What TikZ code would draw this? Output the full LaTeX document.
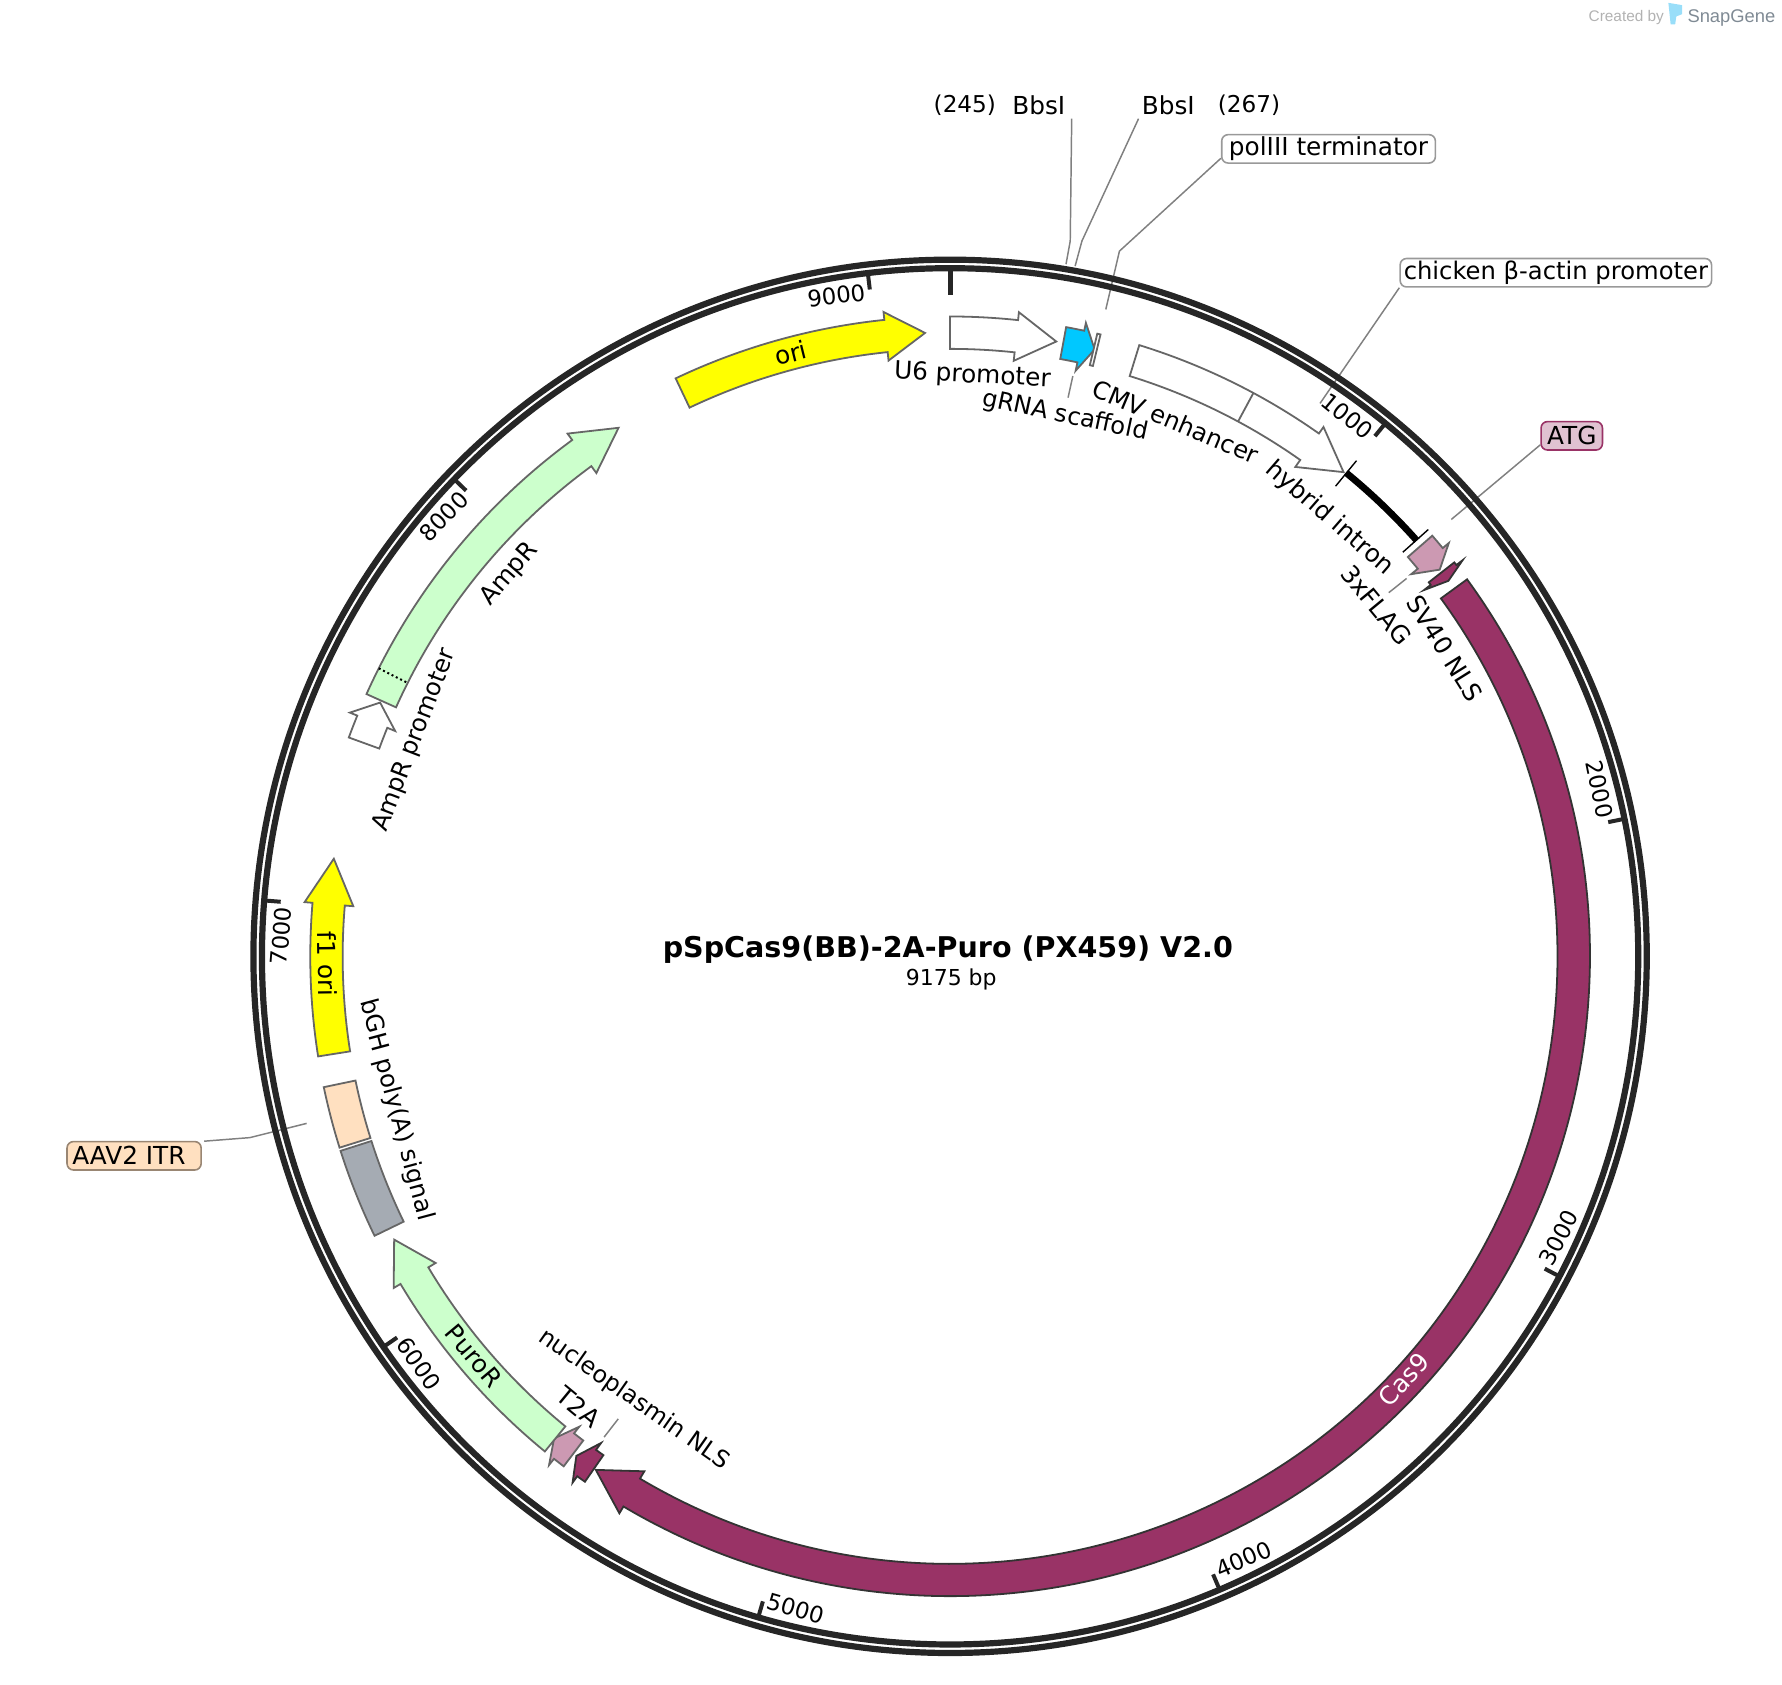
\documentclass[tikz,border=0pt]{standalone}
\usepackage{fontspec}
\setmainfont{DejaVu Sans}
\newfontfamily\logofont{Liberation Sans}

\definecolor{plum}{HTML}{993366}
\definecolor{mauve}{HTML}{CC99B2}
\definecolor{peach}{HTML}{FFE0C0}
\definecolor{mint}{HTML}{CCFFCC}
\definecolor{slategrey}{HTML}{A5ABB3}
\definecolor{skyblue}{HTML}{00C8FF}
\definecolor{ringgrey}{HTML}{262626}
\definecolor{oriyellow}{RGB}{255,255,0}
\definecolor{brandgrey}{HTML}{7F8A94}

\def\ro{5.63}
\def\ri{5.345}
\def\rm{5.49}
\def\wo{5.70}
\def\wi{5.27}

\tikzset{
	ring/.style={draw=ringgrey,line width=1.55pt},
	tickmark/.style={draw=ringgrey,line width=1pt},
	feat/.style={draw=black!60,line width=.45pt,line join=miter},
	featdark/.style={draw=black!80,line width=.45pt,line join=miter},
	leader/.style={draw=black!50,line width=.37pt},
	flab/.style={font=\fontsize{6.2}{7}\selectfont,inner sep=0pt},
	poslab/.style={font=\fontsize{5.8}{7}\selectfont,inner sep=0pt},
	ticklab/.style={font=\fontsize{5.7}{7}\selectfont,inner sep=0pt},
	lbox/.style={flab,rounded corners=1.6pt,line width=.4pt,minimum height=.25cm},
}

% tail, wing and tip angle, clockwise from the top
\newcommand{\featarrow}[4]{
	\draw[#1] ({90-#2}:\ro) arc[start angle={90-#2},end angle={90-#3},radius=\ro] -- ({90-#3}:\wo)
		-- ({90-#4}:\rm) -- ({90-#3}:\wi) -- ({90-#3}:\ri)
		arc[start angle={90-#3},end angle={90-#2},radius=\ri] -- cycle;
}
\newcommand{\featblock}[3]{
	\draw[#1] ({90-#2}:\ro) arc[start angle={90-#2},end angle={90-#3},radius=\ro] -- ({90-#3}:\ri)
		arc[start angle={90-#3},end angle={90-#2},radius=\ri] -- cycle;
}

\begin{document}
\begin{tikzpicture}
	\useasboundingbox (-8.36,8.415) rectangle (7.32,-6.405);

	% boxes and upper labels
	\node[poslab] (bbsApos) at (0.13,7.49) {(245)};
	\node[flab] (bbsA) at (0.78,7.49) {BbsI};
	\node[flab] (bbsB) at (1.92,7.49) {BbsI};
	\node[poslab] (bbsBpos) at (2.63,7.49) {(267)};
	\node[lbox,draw=black!40,fill=white,minimum width=1.88cm] (polbox) at (3.33,7.105) {polIII terminator};
	\node[lbox,draw=black!40,fill=white,minimum width=2.74cm,font=\fontsize{6.07}{7}\selectfont] (actbox) at (5.33,6.015) {chicken β-actin promoter};
	\node[lbox,draw=plum,fill=plum!30,minimum width=.54cm] (atgbox) at (5.47,4.58) {ATG};
	\node[lbox,draw=peach!60!black,fill=peach,minimum width=1.18cm] (aavbox) at (-7.18,-1.755) {AAV2 ITR\kern.09cm\relax};

	% leader lines, under the rings
	\coordinate (bbsAtop) at (1.07,7.37);
	\coordinate (bbsAbend) at (1.057,6.294);
	\coordinate (bbsAend) at (1.02,6.09);
	\coordinate (bbsBtop) at (1.658,7.37);
	\coordinate (bbsBbend) at (1.16,6.294);
	\coordinate (bbsBend) at (1.10,6.073);
	\coordinate (polbend) at (1.49,6.205);
	\coordinate (polend) at (1.37,5.692);
	\coordinate (actend) at (3.255,4.865);
	\coordinate (atgend) at (4.41,3.844);
	\coordinate (aavbend) at (-6.16,-1.595);
	\coordinate (aavend) at (-5.662,-1.47);
	\coordinate (grnaA) at (1.08,5.106);
	\coordinate (grnaB) at (1.038,4.916);
	\coordinate (flagA) at (4.017,3.325);
	\coordinate (flagB) at (3.86,3.20);
	\coordinate (npA) at (-2.92,-4.07);
	\coordinate (npB) at (-3.044,-4.23);
	\draw[leader] (bbsAtop) -- (bbsAbend) -- (bbsAend);
	\draw[leader] (bbsBtop) -- (bbsBbend) -- (bbsBend);
	\draw[leader] (polbox.185) -- (polbend) -- (polend);
	\draw[leader] (actbox.south west) -- (actend);
	\draw[leader] (atgbox.196) -- (atgend);
	\draw[leader,shorten <=.02cm] (aavbox.12) -- (aavbend) -- (aavend);
	\draw[leader] (grnaA) -- (grnaB);
	\draw[leader] (flagA) -- (flagB);
	\draw[leader] (npA) -- (npB);

	% backbone
	\draw[ring] (0,0) circle (6.13);
	\draw[ring] (0,0) circle (6.055);
	\draw[tickmark,line width=1.3pt] (90:6.06) -- (90:5.82);
	\foreach \k in {1,...,9}{
		\pgfmathsetmacro{\t}{\k*39.2371}
		\pgfmathsetmacro{\rot}{(\k>2 && \k<7) ? 180-\t : -\t}
		\pgfmathsetmacro{\lr}{(\k==6 || \k==7) ? 5.89 : 5.9}
		\draw[tickmark] ({90-\t}:6.06) -- ({90-\t}:5.91);
		\node[ticklab,rotate=\rot] (tick\k) at ({90-\t+2.9}:\lr) {\k000};
	}

	% features
	\featarrow{feat,fill=oriyellow}{-25.4}{-5.9}{-2.3}
	\featarrow{feat,fill=white}{0}{6.1}{9.8}
	\featarrow{feat,fill=skyblue}{10.45}{12.1}{13.4}
	\featblock{feat,fill=white}{13.3}{13.6}
	\featarrow{feat,fill=white}{17.2}{35.2}{39.1}
	\draw[feat] ({90-28.3}:\ro) -- ({90-28.3}:\ri);
	\draw[black,line width=1.7pt] ({90-39.3}:5.5) arc[start angle={90-39.3},end angle={90-48.3},radius=5.5];
	\draw[black,line width=.35pt] ({90-39.35}:5.64) -- ({90-39.35}:5.35);
	\draw[black,line width=.35pt] ({90-48.25}:5.64) -- ({90-48.25}:5.34);
	\featarrow{feat,fill=mauve}{48.9}{50.35}{51.7}
	\featarrow{featdark,fill=plum}{52.0}{52.3}{53.0}
	\featarrow{featdark,fill=plum}{53.9}{210.7}{214.6}
	\featarrow{featdark,fill=plum}{214.8}{215.65}{216.8}
	\featarrow{feat,fill=mauve}{217.15}{218.25}{219.4}
	\featarrow{feat,fill=mint}{219.3}{239.2}{243}
	\featblock{feat,fill=slategrey}{244.1}{252.3}
	\featblock{feat,fill=peach}{252.6}{258.2}
	\featarrow{feat,fill=oriyellow}{261}{274.8}{279}
	\featarrow{feat,fill=white}{290}{292.1}{294}
	\featarrow{feat,fill=mint}{294.2}{323.8}{327.9}
	\draw[black,dash pattern=on .5pt off .7pt,line width=.5pt] ({90-296.75}:\ro) -- ({90-296.75}:\ri);

	% feature labels
	\node[flab,rotate=14] (orilab) at ({90+14.8}:5.49) {ori};
	\node[flab,rotate=-3] (u6lab) at ({90-2.2}:5.11) {U6 promoter};
	\node[flab,rotate=-12,font=\fontsize{6.05}{7}\selectfont] (grnalab) at ({90-12}:4.86) {gRNA scaffold};
	\node[flab,rotate=-22.8,font=\fontsize{6.1}{7}\selectfont] (cmvlab) at ({90-22.9}:5.11) {CMV enhancer};
	\node[flab,rotate=-41] (intronlab) at ({90-40.9}:5.10) {hybrid intron};
	\node[flab,rotate=-50.5] (flaglab) at ({90-50.5}:4.86) {3xFLAG};
	\node[flab,rotate=-58] (svlab) at ({90-58.1}:5.13) {SV40 NLS};
	\node[flab,rotate=47,text=white] (caslab) at ({90-133}:5.46) {Cas9};
	\node[flab,rotate=-35,font=\fontsize{5.95}{7}\selectfont] (nplab) at ({90-215.5}:4.79) {nucleoplasmin NLS};
	\node[flab,rotate=-39.5] (t2alab) at ({90-219.5}:5.14) {T2A};
	\node[flab,rotate=-50] (purolab) at ({90-230}:5.47) {PuroR};
	\node[flab,rotate=-75,font=\fontsize{6.1}{7}\selectfont] (bghlab) at ({90-254.5}:5.06) {bGH poly(A) signal};
	\node[flab,rotate=-89.3] (f1lab) at ({90-269.3}:5.48) {f1 ori};
	\node[flab,rotate=69,font=\fontsize{6.1}{7}\selectfont] (amppromlab) at ({90-292}:5.08) {AmpR promoter};
	\node[flab,rotate=49] (amplab) at ({90-310.9}:5.13) {AmpR};

	% centre text
	\node[inner sep=0pt,font=\fontsize{7.15}{8}\selectfont\bfseries] (title) at (-0.02,0.06) {pSpCas9(BB)-2A-Puro (PX459) V2.0};
	\node[inner sep=0pt,font=\fontsize{5.5}{7}\selectfont] (size) at (0.01,-0.2) {9175 bp};

	% corner mark
	\node[inner sep=0pt,text=black!30,font=\logofont\fontsize{3.85}{5}\selectfont] (madeby) at (5.95,8.26) {Created by};
	\fill[cyan!40] (6.32,8.39) -- (6.44,8.37) -- (6.44,8.29) -- (6.39,8.27) -- (6.38,8.20) -- (6.34,8.20) -- cycle;
	\node[inner sep=0pt,text=brandgrey,font=\logofont\fontsize{4.6}{5}\selectfont] (brand) at (6.875,8.26) {SnapGene};
\end{tikzpicture}
\end{document}
